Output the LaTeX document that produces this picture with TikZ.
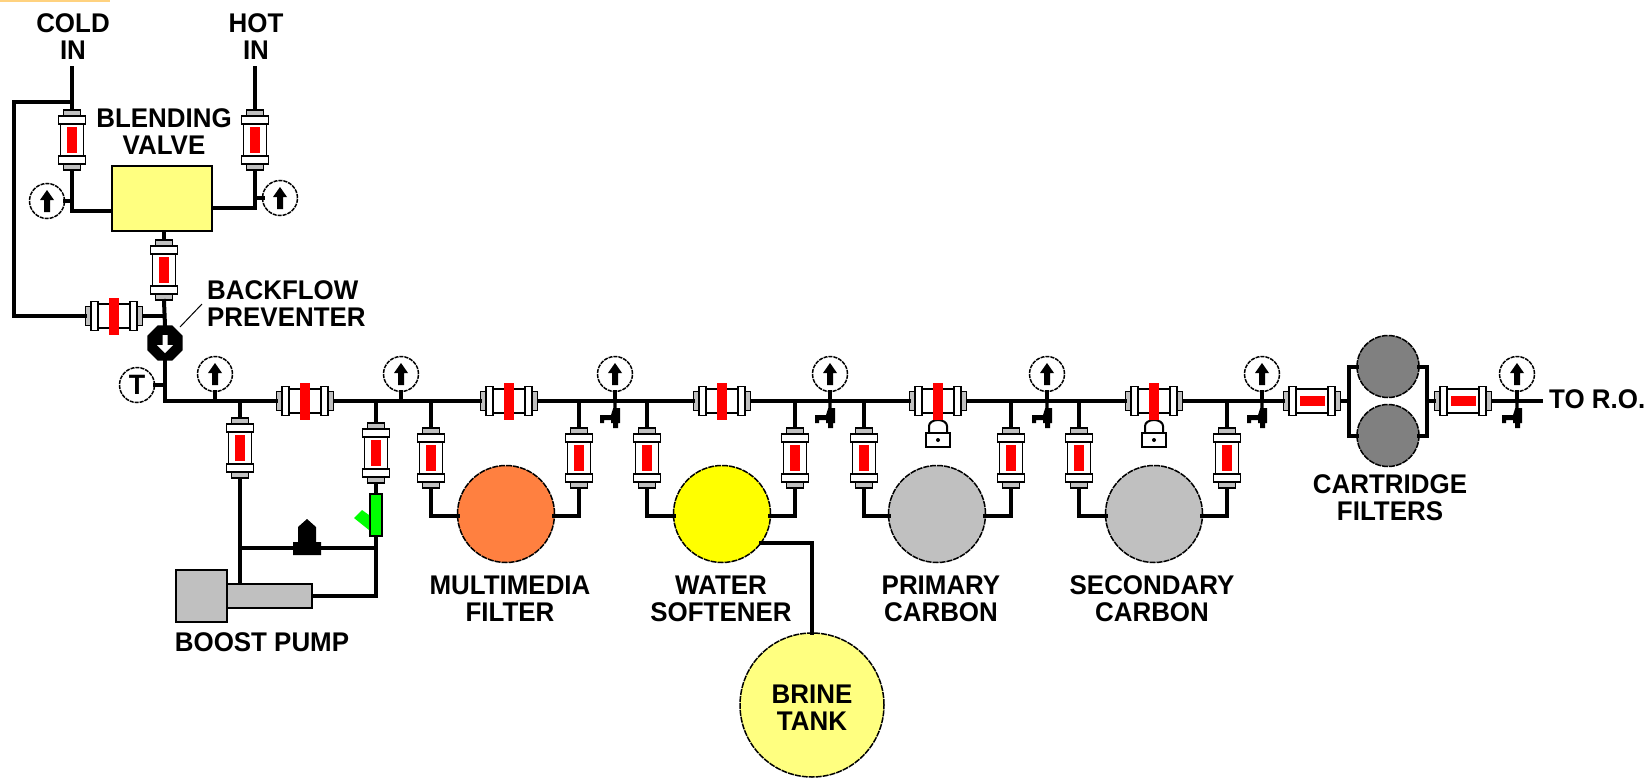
\documentclass[tikz,border=0pt]{standalone}
\usepackage{fontspec}
\usetikzlibrary{shapes.geometric}
\newfontfamily\lblfont{Liberation Sans}[FakeStretch=0.96]
\definecolor{valvey}{HTML}{FFFF80}
\definecolor{tankgray}{HTML}{C0C0C0}
\definecolor{cartgray}{HTML}{808080}
\definecolor{mediaorange}{HTML}{FF8040}
\definecolor{softyellow}{HTML}{FFFF00}
\definecolor{meterred}{HTML}{FF0000}
\definecolor{injgreen}{HTML}{00FF00}
\definecolor{topband}{HTML}{FFD27F}
\newcommand{\vmeterbody}{
    \draw[partline] (-11.5,-16) rectangle (11.5,16);
    \draw[partline,fill=tankgray] (-8.5,-30) rectangle (8.5,-24);
    \draw[partline,fill=tankgray] (-8.5,24) rectangle (8.5,30);
    \draw[partline] (-13.5,-24) rectangle (13.5,-16);
    \draw[partline] (-13.5,16) rectangle (13.5,24);
}
\newcommand{\hmeterbody}{
    \draw[partline] (-16,-12) rectangle (16,12);
    \draw[partline,fill=tankgray] (-28.5,-9.5) rectangle (-23,9.5);
    \draw[partline,fill=tankgray] (23,-9.5) rectangle (28.5,9.5);
    \draw[partline] (-23,-14.5) rectangle (-16,14.5);
    \draw[partline] (16,-14.5) rectangle (23,14.5);
}
\tikzset{
    partline/.style = {draw=black,line width=1.6pt,fill=white},
    pipe/.style = {line width=4pt,line cap=rect},
    lbl/.style = {font=\lblfont\bfseries\fontsize{27}{27}\selectfont,align=center,inner sep=0pt},
    vmeter/.style = {minimum width=29pt,minimum height=62pt,inner sep=0pt,outer sep=0pt,path picture={
        \begin{scope}[shift={(path picture bounding box.center)}]
            \vmeterbody
            \fill[meterred] (-5,-13) rectangle (5,13);
        \end{scope}}},
    cartmeter/.style = {minimum width=59pt,minimum height=31pt,inner sep=0pt,outer sep=0pt,path picture={
        \begin{scope}[shift={(path picture bounding box.center)}]
            \hmeterbody
            \fill[meterred] (-12.5,-5) rectangle (12.5,5);
        \end{scope}}},
    hmeter/.style = {minimum width=59pt,minimum height=38pt,inner sep=0pt,outer sep=0pt,path picture={
        \begin{scope}[shift={(path picture bounding box.center)}]
            \hmeterbody
            \fill[meterred] (-5,-18.5) rectangle (5,18.5);
        \end{scope}}},
    dial/.style = {circle,draw=black,fill=white,line width=1.5pt,dash pattern=on 4pt off 1pt,minimum size=35pt,inner sep=0pt,outer sep=0pt},
    gauge/.style = {dial,path picture={
        \begin{scope}[shift={(path picture bounding box.center)}]
            \fill[black] (0,-11) -- (7,-1) -- (3,-1) -- (3,11) -- (-3,11) -- (-3,-1) -- (-7,-1) -- cycle;
        \end{scope}}},
    tank/.style = {circle,draw=black,line width=1.5pt,dash pattern=on 6pt off 1pt,minimum size=97pt,inner sep=0pt,outer sep=0pt},
    cartridge/.style = {circle,draw=black,fill=cartgray,line width=1.5pt,dash pattern=on 6pt off 1pt,minimum size=62pt,inner sep=0pt,outer sep=0pt},
    backflow/.style = {regular polygon,regular polygon sides=8,fill=black,minimum size=38pt,inner sep=0pt,outer sep=0pt,path picture={
        \begin{scope}[shift={(path picture bounding box.center)}]
            \fill[white] (-2.5,-8) rectangle (2.5,2) (-8,2) -- (8,2) -- (0,10) -- cycle;
        \end{scope}}},
    relief/.style = {minimum width=28pt,minimum height=36pt,inner sep=0pt,outer sep=0pt,path picture={
        \begin{scope}[shift={(path picture bounding box.center)}]
            \fill[black] (-14,18) -- (-14,5) -- (-9,5) -- (-9,-10) -- (0,-18) -- (9,-10) -- (9,5) -- (14,5) -- (14,18) -- cycle;
        \end{scope}}},
    faucet/.pic = {
        \fill[black] (-1.7,0) -- (1.7,0) -- (1.7,7) -- (5,7) -- (5,22) -- (3,22) -- (3,27) -- (-2,27) -- (-2,22) -- (-4,22) -- (-4,19) -- (-11,19) -- (-11,22) -- (-15,22) -- (-15,14) -- (-4,14) -- (-1.7,7) -- cycle;
    },
    padlock/.pic = {
        \draw[black,line width=2pt] (-9,0) -- (-9,-7) arc (180:360:9 and 6) -- (9,0);
        \draw[partline] (-12,0) rectangle (12,14);
        \fill[black] (0,7) circle (2);
    }
}
\begin{document}
\begin{tikzpicture}[x=1pt,y=-1pt]
    \useasboundingbox (0,0) rectangle (1652,779);
    \fill[topband] (0,0) rectangle (110,2);

    \coordinate (coldin) at (72,68);
    \coordinate (hotin) at (255,68);
    \coordinate (coldtap) at (72,102);
    \coordinate (bypass) at (14,102);
    \coordinate (tee) at (165,401);
    \coordinate (framel) at (1349,401);
    \coordinate (framer) at (1427,401);
    \coordinate (toro) at (1541,401);
    \coordinate (crossl) at (240,548);
    \coordinate (crossr) at (376,548);

    \node[vmeter] (coldmeter) at (72,140) {};
    \node[vmeter] (hotmeter) at (255,140) {};
    \node[vmeter] (blendmeter) at (164,270) {};
    \node[hmeter] (bypassmeter) at (114,316) {};
    \node[draw=black,line width=2pt,fill=valvey,minimum width=100pt,minimum height=65pt,inner sep=0pt] (blend) at (161.5,198) {};
    \node[backflow] (bfp) at (165,343) {};
    \node[gauge] (coldgauge) at (47,201) {};
    \node[gauge] (hotgauge) at (280,198) {};
    \node[dial,font=\lblfont\bfseries\fontsize{28}{28}\selectfont] (tempgauge) at (137,385) {T};

    \node[gauge] (gauge1) at (215,374) {};
    \node[gauge] (gauge2) at (401,374) {};
    \node[gauge] (gauge3) at (615,374) {};
    \node[gauge] (gauge4) at (830,374) {};
    \node[gauge] (gauge5) at (1047,374) {};
    \node[gauge] (gauge6) at (1262,374) {};
    \node[gauge] (gauge7) at (1517,374) {};

    \pic at (938,433) {padlock};
    \pic at (1154,433) {padlock};

    \node[hmeter] (main1) at (305,401) {};
    \node[hmeter] (main2) at (509,401) {};
    \node[hmeter] (main3) at (722,401) {};
    \node[hmeter] (main4) at (938,401) {};
    \node[hmeter] (main5) at (1154,401) {};
    \node[cartmeter] (main6) at (1312,401) {};
    \node[cartmeter] (main7) at (1463,401) {};

    \node[vmeter] (pumpin) at (240,448) {};
    \node[vmeter] (pumpout) at (376,453) {};
    \node[vmeter] (mmin) at (431,458) {};
    \node[vmeter] (mmout) at (579,458) {};
    \node[vmeter] (wsin) at (647,458) {};
    \node[vmeter] (wsout) at (795,458) {};
    \node[vmeter] (pcin) at (864,458) {};
    \node[vmeter] (pcout) at (1011,458) {};
    \node[vmeter] (scin) at (1079,458) {};
    \node[vmeter] (scout) at (1227,458) {};

    \node[tank,fill=mediaorange] (multimedia) at (506,514) {};
    \node[tank,fill=softyellow] (softener) at (722,514) {};
    \node[tank,fill=tankgray] (primary) at (937,514) {};
    \node[tank,fill=tankgray] (secondary) at (1154,514) {};
    \node[tank,fill=valvey,minimum size=144pt] (brine) at (812,705) {};
    \node[cartridge] (cart1) at (1388,366.5) {};
    \node[cartridge] (cart2) at (1388,435.5) {};

    \node[draw=black,line width=1.5pt,fill=tankgray,minimum width=85pt,minimum height=24pt,inner sep=0pt] (shaft) at (269.5,596) {};
    \node[draw=black,line width=1.5pt,fill=tankgray,minimum width=51pt,minimum height=52pt,inner sep=0pt] (motor) at (201.5,596) {};
    \node[draw=black,line width=1.5pt,fill=injgreen,minimum width=12pt,minimum height=42pt,inner sep=0pt] (injector) at (376,515) {};
    \fill[injgreen] (354,518) -- (362,510) -- (369,515) -- (369,530) -- cycle;

    \draw[pipe] (coldin) -- (coldmeter.north);
    \draw[pipe] (hotin) -- (hotmeter.north);
    \draw[pipe] (coldtap) -- (bypass) |- (bypassmeter.west);
    \draw[pipe] (coldmeter.south) |- ([yshift=-13pt]blend.west);
    \draw[pipe] (hotmeter.south) |- ([yshift=-10pt]blend.east);
    \draw[pipe] (blendmeter.north) -- (blendmeter.north |- blend.south);
    \draw[pipe] (blendmeter.south) -- (bfp.north);
    \draw[pipe] (bypassmeter.east) -- (bypassmeter.east -| blendmeter.south);
    \draw[pipe] (coldgauge.east) -- (coldgauge.east -| coldmeter.south);
    \draw[pipe] (hotgauge.west) -- (hotgauge.west -| hotmeter.south);
    \draw[pipe] (bfp.south) -- (tee);
    \draw[pipe] (tempgauge.east) -- (tempgauge.east -| tee);

    \draw[pipe] (tee) -- (main1.west);
    \draw[pipe] (main1.east) -- (main2.west);
    \draw[pipe] (main2.east) -- (main3.west);
    \draw[pipe] (main3.east) -- (main4.west);
    \draw[pipe] (main4.east) -- (main5.west);
    \draw[pipe] (main5.east) -- (main6.west);
    \draw[pipe] (main6.east) -- (framel);
    \draw[pipe] (cart1.west) -| (framel) |- (cart2.west);
    \draw[pipe] (cart1.east) -| (framer) |- (cart2.east);
    \draw[pipe] (framer) -- (main7.west);
    \draw[pipe] (main7.east) -- (toro);

    \draw[pipe] (gauge1.south) -- (gauge1.south |- tee);
    \draw[pipe] (gauge2.south) -- (gauge2.south |- tee);
    \draw[pipe] (gauge3.south) -- (gauge3.south |- tee);
    \draw[pipe] (gauge4.south) -- (gauge4.south |- tee);
    \draw[pipe] (gauge5.south) -- (gauge5.south |- tee);
    \draw[pipe] (gauge6.south) -- (gauge6.south |- tee);
    \draw[pipe] (gauge7.south) -- (gauge7.south |- tee);

    \pic at (615,401) {faucet};
    \pic at (830,401) {faucet};
    \pic at (1047,401) {faucet};
    \pic at (1262,401) {faucet};
    \pic at (1517,401) {faucet};

    \draw[pipe] (pumpin.north) -- (pumpin.north |- tee);
    \draw[pipe] (pumpout.north) -- (pumpout.north |- tee);
    \draw[pipe] (mmin.north) -- (mmin.north |- tee);
    \draw[pipe] (mmout.north) -- (mmout.north |- tee);
    \draw[pipe] (wsin.north) -- (wsin.north |- tee);
    \draw[pipe] (wsout.north) -- (wsout.north |- tee);
    \draw[pipe] (pcin.north) -- (pcin.north |- tee);
    \draw[pipe] (pcout.north) -- (pcout.north |- tee);
    \draw[pipe] (scin.north) -- (scin.north |- tee);
    \draw[pipe] (scout.north) -- (scout.north |- tee);

    \draw[pipe] (mmin.south) |- (multimedia.182);
    \draw[pipe] (mmout.south) |- (multimedia.-2);
    \draw[pipe] (wsin.south) |- (softener.182);
    \draw[pipe] (wsout.south) |- (softener.-2);
    \draw[pipe] (pcin.south) |- (primary.182);
    \draw[pipe] (pcout.south) |- (primary.-2);
    \draw[pipe] (scin.south) |- (secondary.182);
    \draw[pipe] (scout.south) |- (secondary.-2);
    \draw[pipe] (softener.-36) -| (brine.north);

    \draw[pipe] (pumpin.south) -- (pumpin.south |- shaft.north);
    \draw[pipe] (pumpout.south) -- (injector.north);
    \draw[pipe] (injector.south) |- (shaft.east);
    \draw[pipe] (crossl) -- (crossr);
    \node[relief] (reliefvalve) at (307,537) {};

    \node[lbl] (coldlbl) at (73,36.5) {COLD\\IN};
    \node[lbl] (hotlbl) at (256,36.5) {HOT\\IN};
    \node[lbl] (blendlbl) at (164,131.5) {BLENDING\\VALVE};
    \node[lbl,align=left,anchor=west] (bfplbl) at (207,303.5) {BACKFLOW\\PREVENTER};
    \draw[line width=1pt] (202,304) -- (180,327);
    \node[lbl] (pumplbl) at (262,642) {BOOST PUMP};
    \node[lbl] (mmlbl) at (510,598.5) {MULTIMEDIA\\FILTER};
    \node[lbl] (wslbl) at (721,598.5) {WATER\\SOFTENER};
    \node[lbl] (pclbl) at (941,598.5) {PRIMARY\\CARBON};
    \node[lbl] (sclbl) at (1152,598.5) {SECONDARY\\CARBON};
    \node[lbl] (cartlbl) at (1390,498) {CARTRIDGE\\FILTERS};
    \node[lbl] (brinelbl) at (812,707.5) {BRINE\\TANK};
    \node[lbl,anchor=west] (torolbl) at (1549,399) {TO R.O.};
\end{tikzpicture}
\end{document}
